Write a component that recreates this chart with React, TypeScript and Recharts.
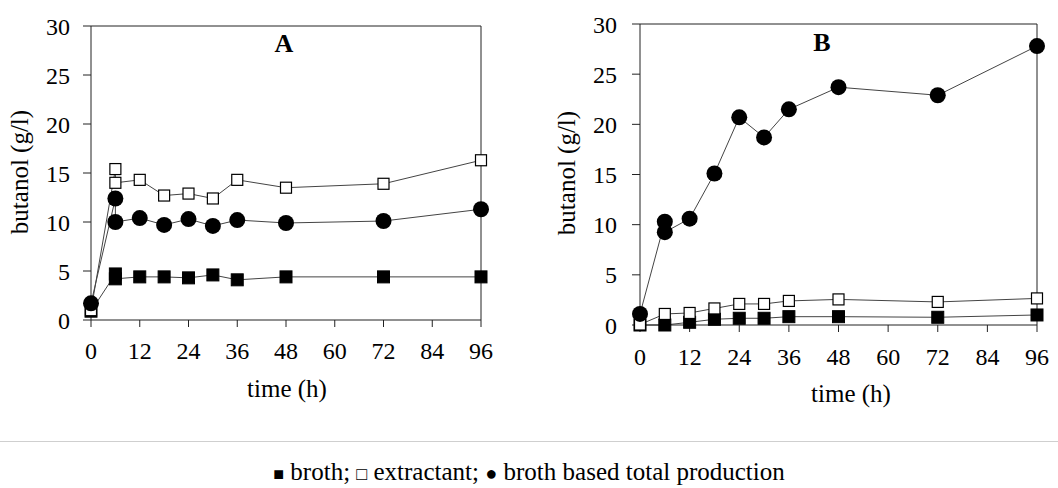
import React from "react";
import {
  LineChart,
  Line,
  XAxis,
  YAxis,
  ReferenceLine,
  Customized,
} from "recharts";

// panel A (time in h, butanol g/l)
const timeA = [0, 6, 6, 12, 18, 24, 30, 36, 48, 72, 96];
const brothA = [0.9, 4.7, 4.2, 4.4, 4.4, 4.3, 4.6, 4.1, 4.4, 4.4, 4.4];
const extractantA = [1.0, 15.4, 14.0, 14.3, 12.7, 12.9, 12.4, 14.3, 13.5, 13.9, 16.3];
const totalA = [1.7, 12.4, 10.0, 10.4, 9.7, 10.3, 9.6, 10.2, 9.9, 10.1, 11.3];

// panel B
const timeB = [0, 6, 12, 18, 24, 30, 36, 48, 72, 96];
const brothB = [0, 0, 0.27, 0.57, 0.67, 0.67, 0.83, 0.83, 0.77, 1.0];
const extractantB = [0.05, 1.1, 1.2, 1.65, 2.1, 2.1, 2.4, 2.55, 2.3, 2.65];
const timeTotalB = [0, 6, 6, 12, 18, 24, 30, 36, 48, 72, 96];
const totalB = [1.1, 10.3, 9.25, 10.6, 15.1, 20.7, 18.7, 21.5, 23.7, 22.9, 27.8];

const xTicks = [0, 12, 24, 36, 48, 60, 72, 84, 96];
const yTicks = [0, 5, 10, 15, 20, 25, 30];

const toRows = (t: number[], v: number[]) => t.map((x, i) => ({ t: x, v: v[i] }));

const FONT = "'Liberation Serif', 'Times New Roman', 'DejaVu Serif', serif";
const AXIS = "#222";
const LINE = "#444";

const filledSquare = (p: any) => (
  <rect key={p.index} x={p.cx - 6} y={p.cy - 6} width={12} height={12} fill="#000" stroke="#000" />
);
const openSquare = (p: any) => (
  <rect key={p.index} x={p.cx - 5.5} y={p.cy - 5.5} width={11} height={11} fill="#fff" stroke="#000" strokeWidth={1.2} />
);
const circle = (p: any) => <circle key={p.index} cx={p.cx} cy={p.cy} r={8} fill="#000" />;

type PanelProps = {
  title: string;
  broth: { t: number; v: number }[];
  extractant: { t: number; v: number }[];
  total: { t: number; v: number }[];
  width: number;
  margin: { top: number; right: number; bottom: number; left: number };
  yWidth: number;
  tickMarginY: number;
  tickMarginX: number;
  titlePos: [number, number];
  xLabelPos: [number, number];
  yLabelPos: [number, number];
};

const Panel: React.FC<PanelProps> = (p) => (
  <LineChart width={p.width} height={420} margin={p.margin}>
    <XAxis
      type="number"
      dataKey="t"
      domain={[0, 96]}
      ticks={xTicks}
      interval={0}
      height={80}
      tickSize={7}
      tickMargin={p.tickMarginX}
      axisLine={{ stroke: AXIS }}
      tickLine={{ stroke: AXIS }}
      tick={{ fill: "#000", fontSize: 24, fontFamily: FONT }}
    />
    <YAxis
      type="number"
      domain={[0, 30]}
      ticks={yTicks}
      interval={0}
      width={p.yWidth}
      tickSize={8}
      tickMargin={p.tickMarginY}
      axisLine={{ stroke: AXIS }}
      tickLine={{ stroke: AXIS }}
      tick={{ fill: "#000", fontSize: 24, fontFamily: FONT }}
    />
    <ReferenceLine y={30} stroke={AXIS} />
    <ReferenceLine x={96} stroke={AXIS} />
    <Line data={p.broth} dataKey="v" stroke={LINE} strokeWidth={1} dot={filledSquare} isAnimationActive={false} />
    <Line data={p.extractant} dataKey="v" stroke={LINE} strokeWidth={1} dot={openSquare} isAnimationActive={false} />
    <Line data={p.total} dataKey="v" stroke={LINE} strokeWidth={1} dot={circle} isAnimationActive={false} />
    <Customized
      component={() => (
        <g fontFamily={FONT} fill="#000">
          <text x={p.titlePos[0]} y={p.titlePos[1]} textAnchor="middle" fontSize={26} fontWeight="bold">
            {p.title}
          </text>
          <text x={p.xLabelPos[0]} y={p.xLabelPos[1]} textAnchor="middle" fontSize={25}>
            time (h)
          </text>
          <text
            x={p.yLabelPos[0]}
            y={p.yLabelPos[1]}
            textAnchor="middle"
            fontSize={25}
            transform={`rotate(-90 ${p.yLabelPos[0]} ${p.yLabelPos[1]})`}
          >
            butanol (g/l)
          </text>
        </g>
      )}
    />
  </LineChart>
);

export default function App() {
  return (
    <div
      style={{
        position: "absolute",
        left: 0,
        top: 0,
        width: 1058,
        height: 488,
        background: "#fff",
        fontFamily: FONT,
      }}
    >
      <div style={{ position: "absolute", left: 0, top: 0 }}>
        <Panel
          title="A"
          broth={toRows(timeA, brothA)}
          extractant={toRows(timeA, extractantA)}
          total={toRows(timeA, totalA)}
          width={530}
          margin={{ top: 26, right: 49, bottom: 20, left: 0 }}
          yWidth={91}
          tickMarginY={13}
          tickMarginX={15}
          titlePos={[284, 52]}
          xLabelPos={[287, 397]}
          yLabelPos={[28, 172]}
        />
      </div>
      <div style={{ position: "absolute", left: 530, top: 0 }}>
        <Panel
          title="B"
          broth={toRows(timeB, brothB)}
          extractant={toRows(timeB, extractantB)}
          total={toRows(timeTotalB, totalB)}
          width={528}
          margin={{ top: 24, right: 21, bottom: 15, left: 0 }}
          yWidth={110}
          tickMarginY={15}
          tickMarginX={16}
          titlePos={[292, 51]}
          xLabelPos={[321, 402]}
          yLabelPos={[45, 173]}
        />
      </div>
      <div style={{ position: "absolute", left: 0, top: 441, width: 1058, height: 1, background: "#cfcfcf" }} />
      <div
        style={{
          position: "absolute",
          left: 0,
          top: 458,
          width: 1058,
          textAlign: "center",
          fontSize: 25,
          lineHeight: "28px",
          color: "#000",
        }}
      >
        <span style={{ fontSize: 18 }}>■</span> broth; <span style={{ fontSize: 18 }}>□</span> extractant;{" "}
        <span style={{ fontSize: 20 }}>●</span> broth based total production
      </div>
    </div>
  );
}
